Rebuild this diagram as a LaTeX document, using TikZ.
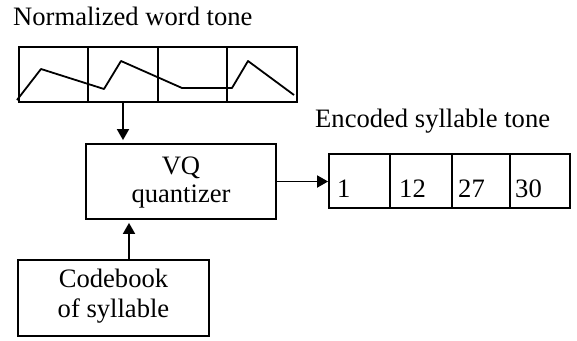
\documentclass[tikz,border=0pt]{standalone}
\usepackage{fontspec}
\setmainfont{Liberation Serif}
\usetikzlibrary{arrows.meta}
\begin{document}
\begin{tikzpicture}[x=1pt,y=-1pt,
  box/.style={draw,line width=1.8pt,inner sep=0pt},
  lbl/.style={font=\fontsize{26.6}{29}\selectfont,inner sep=0pt},
  arr/.style={line width=1.8pt,-{Triangle[length=11pt,width=12pt]},shorten >=3pt}]
\useasboundingbox (0,0) rectangle (577,340);
% top word tone box
\node[box,minimum width=69pt,minimum height=55pt] (c1) at (53.5,74.5) {};
\node[box,minimum width=70pt,minimum height=55pt] (c2) at (123,74.5) {};
\node[box,minimum width=69pt,minimum height=55pt] (c3) at (192.5,74.5) {};
\node[box,minimum width=70pt,minimum height=55pt] (c4) at (262,74.5) {};
\draw[line width=1.8pt,line join=round] (17,100) -- (41,69) -- (104,89) -- (121,61) -- (182,88) -- (232,88) -- (248,61) -- (294,95);
\node[lbl,anchor=base west] (t1) at (13,25) {Normalized word tone};
% quantizer
\node[box,minimum width=190pt,minimum height=75pt] (q) at (181,181.5) {};
\node[lbl,anchor=base] (q1) at (181,174) {VQ};
\node[lbl,anchor=base] (q2) at (181,202) {quantizer};
% codebook
\node[box,minimum width=191pt,minimum height=76pt] (cb) at (113.5,298) {};
\node[lbl,anchor=base] (cb1) at (113.5,287) {Codebook};
\node[lbl,anchor=base] (cb2) at (113.5,317) {of syllable};
% encoded
\node[lbl,anchor=base west] (t2) at (315,127) {Encoded syllable tone};
\node[box,minimum width=61pt,minimum height=54pt] (e1) at (359.5,181) {};
\node[box,minimum width=62pt,minimum height=54pt] (e2) at (421,181) {};
\node[box,minimum width=58pt,minimum height=54pt] (e3) at (481,181) {};
\node[box,minimum width=60pt,minimum height=54pt] (e4) at (540,181) {};
\node[lbl,anchor=base west] (n1) at (337,197) {1};
\node[lbl,anchor=base west] (n2) at (399,197) {12};
\node[lbl,anchor=base west] (n3) at (458,197) {27};
\node[lbl,anchor=base west] (n4) at (515,197) {30};
% arrows
\draw[arr] (c2.south) -- (c2.south |- q.north);
\draw[arr] ([xshift=15.5pt]cb.north) -- ([xshift=15.5pt]cb.north |- q.south);
\draw[arr,shorten >=0pt] (q.east) -- (q.east -| e1.west);
\end{tikzpicture}
\end{document}
